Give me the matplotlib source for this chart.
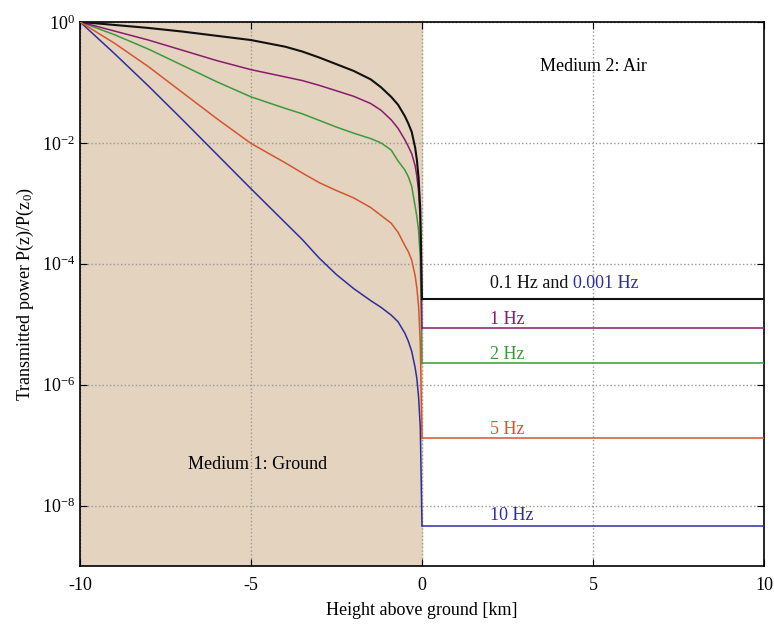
import numpy as np
import matplotlib.pyplot as plt

plt.rcParams['font.family'] = ['Liberation Serif', 'DejaVu Serif']
plt.rcParams['mathtext.fontset'] = 'custom'
plt.rcParams['mathtext.rm'] = 'Liberation Serif'
plt.rcParams['mathtext.it'] = 'Liberation Serif:italic'

# altura (km) en el suelo, valores leidos como log10 de la potencia
z_ground = [-10, -9, -8, -7, -6, -5, -4, -3.5, -3, -2.5, -2, -1.5, -1.2, -0.9,
            -0.7, -0.5, -0.4, -0.3, -0.2, -0.15, -0.1, -0.05, 0]

logp_01hz = [0, -0.05, -0.10, -0.16, -0.23, -0.30, -0.41, -0.49, -0.59, -0.70, -0.81, -0.95,
             -1.08, -1.24, -1.37, -1.56, -1.68, -1.82, -2.08, -2.28, -2.58, -3.1, -4.58]
logp_1hz = [0, -0.15, -0.30, -0.47, -0.64, -0.79, -0.91, -0.97, -1.05, -1.14, -1.23, -1.35,
            -1.46, -1.62, -1.76, -1.95, -2.06, -2.18, -2.38, -2.55, -2.8, -3.3, -5.07]
logp_2hz = [0, -0.21, -0.45, -0.72, -0.99, -1.24, -1.43, -1.52, -1.63, -1.74, -1.84, -1.93,
            -2.00, -2.12, -2.30, -2.45, -2.56, -2.72, -3.05, -3.22, -3.45, -3.9, -5.65]
logp_5hz = [0, -0.35, -0.74, -1.17, -1.60, -2.01, -2.33, -2.50, -2.66, -2.79, -2.91, -3.07,
            -3.20, -3.33, -3.48, -3.70, -3.80, -3.94, -4.20, -4.40, -4.70, -5.3, -6.88]
logp_10hz = [0, -0.52, -1.06, -1.62, -2.19, -2.76, -3.32, -3.60, -3.91, -4.18, -4.41, -4.61,
             -4.72, -4.85, -4.96, -5.15, -5.28, -5.45, -5.72, -5.90, -6.20, -6.7, -8.33]

# niveles en el aire
z_air = [0, 10]
air_levels = {'0.1 Hz': -4.58, '1 Hz': -5.07, '2 Hz': -5.65, '5 Hz': -6.88, '10 Hz': -8.33}

colores = {'0.1 Hz': '#111111', '1 Hz': '#8a1a70', '2 Hz': '#3c9a3c',
           '5 Hz': '#d4552e', '10 Hz': '#2e2e9e'}
curvas = {'0.1 Hz': logp_01hz, '1 Hz': logp_1hz, '2 Hz': logp_2hz,
          '5 Hz': logp_5hz, '10 Hz': logp_10hz}

fig = plt.figure(figsize=(7.74, 6.26), dpi=100)
ax = fig.add_axes([0.1034, 0.0958, 0.8836, 0.8692])

ax.axvspan(-10, 0, color='#e3d3bf', zorder=0)

for f in ['10 Hz', '2 Hz', '1 Hz', '0.1 Hz', '5 Hz']:
    ancho = 1.5 if f == '0.1 Hz' else 1.1
    ax.plot(z_ground, 10 ** np.array(curvas[f]), color=colores[f], lw=ancho, zorder=3)
    ax.plot(z_air, [10 ** air_levels[f]] * 2, color=colores[f], lw=ancho, zorder=3)

ax.set_yscale('log')
ax.set_xlim(-10, 10)
ax.set_ylim(1e-9, 1)
ax.set_xticks([-10, -5, 0, 5, 10])
ax.set_xticklabels(['-10', '-5', '0', '5', '10'])
ax.set_yticks([1e0, 1e-2, 1e-4, 1e-6, 1e-8])
ax.set_yticklabels(['$10^{0}$', '$10^{-2}$', '$10^{-4}$', '$10^{-6}$', '$10^{-8}$'])
ax.yaxis.set_minor_locator(plt.NullLocator())
ax.tick_params(direction='in', labelsize=13, length=5, top=True, right=True)
ax.tick_params(axis='x', pad=8)
ax.grid(True, linestyle=':', color='#999999', lw=1.0)
for s in ax.spines.values():
    s.set_linewidth(1.2)

ax.set_xlabel('Height above ground [km]', fontsize=13, labelpad=6)
ax.set_ylabel('Transmitted power P(z)/P(z$_0$)', fontsize=13)

ax.text(5.0, 10 ** -0.74, 'Medium 2: Air', fontsize=13, ha='center', va='center')
ax.text(-4.8, 10 ** -7.32, 'Medium 1: Ground', fontsize=13, ha='center', va='center')

t = ax.text(2.0, 10 ** -4.33, '0.1 Hz and ', fontsize=13, color='#111111', va='center')
fig.canvas.draw()
bb = t.get_window_extent()
x_fin = ax.transData.inverted().transform((bb.x1, bb.y0))[0]
ax.text(x_fin, 10 ** -4.33, '0.001 Hz', fontsize=13, color='#2e2e9e', va='center')

ax.text(2.0, 10 ** -4.93, '1 Hz', fontsize=13, color=colores['1 Hz'], va='center')
ax.text(2.0, 10 ** -5.5, '2 Hz', fontsize=13, color=colores['2 Hz'], va='center')
ax.text(2.0, 10 ** -6.74, '5 Hz', fontsize=13, color=colores['5 Hz'], va='center')
ax.text(2.0, 10 ** -8.17, '10 Hz', fontsize=13, color=colores['10 Hz'], va='center')

plt.savefig('out.png', dpi=100)
